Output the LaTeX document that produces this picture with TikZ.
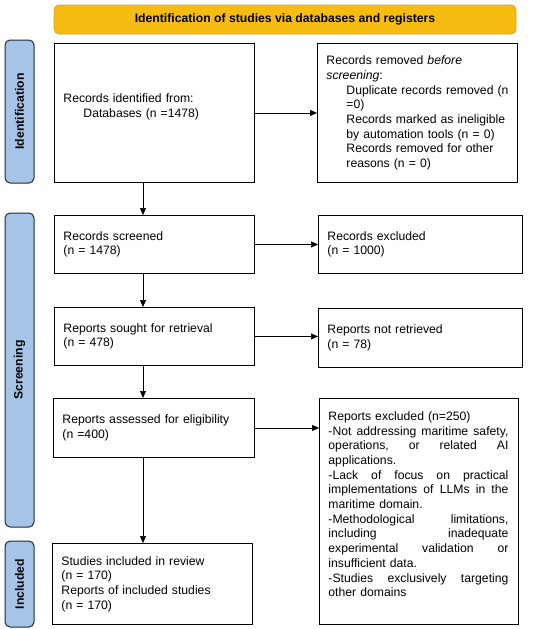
\documentclass[tikz,border=0pt]{standalone}
\usepackage{fontspec}
\setmainfont{Liberation Sans}
\usetikzlibrary{arrows.meta,calc}
\definecolor{hdr}{HTML}{F6BC12}
\definecolor{hdrb}{HTML}{D9A21B}
\definecolor{side}{HTML}{A6C4E8}
\definecolor{sideb}{HTML}{1E2A38}
\newcommand\myfs{\fontsize{12.2}{14.7}\selectfont}
\newcommand\jl[1]{\leavevmode\hbox to 180pt{#1}}
\begin{document}
\begin{tikzpicture}[x=1pt,y=-1pt,
  box/.style={draw=black, line width=0.9pt, rectangle, anchor=north west,
    inner xsep=9pt, inner ysep=0pt, align=left, font=\myfs},
  sidebar/.style={draw=sideb, fill=side, line width=1pt, rounded corners=5pt,
    rotate=90, minimum height=29pt, inner sep=0pt, font=\myfs\bfseries},
  arr/.style={draw=black, line width=0.7pt, -{Triangle[length=7pt,width=6pt]}}]
\useasboundingbox (0,0) rectangle (550,629);
% header
\node[draw=hdrb, fill=hdr, line width=0.8pt, rounded corners=5pt, minimum width=462pt,
  minimum height=29pt, inner sep=0pt, font=\myfs\bfseries] (hdr) at (285,19.5)
  {Identification of studies via databases and registers};
% sidebars
\node[sidebar, minimum width=143pt] (sid) at (19.5,111.5) {Identification};
\node[sidebar, minimum width=314pt] (sscr) at (19.5,370) {Screening};
\node[sidebar, minimum width=86pt] (sinc) at (19.5,584) {Included};
% boxes
\node[box, text width=182pt, minimum height=139pt] (b1) at (54,43)
  {Records identified from:\\\hspace*{20pt}Databases (n =1478)\\\mbox{}};
\node[box, text width=182pt, minimum height=139pt] (b2) at (317,43)
  {Records removed \textit{before}\\\textit{screening}:\\
   \mbox{\hspace*{20pt}Duplicate records removed (n}\\
   \mbox{\hspace*{20pt}=0)}\\
   \mbox{\hspace*{20pt}Records marked as ineligible}\\
   \mbox{\hspace*{20pt}by automation tools (n = 0)}\\
   \mbox{\hspace*{20pt}Records removed for other}\\
   \mbox{\hspace*{20pt}reasons (n = 0)}};
\node[box, text width=182pt, minimum height=58pt] (scr) at (54,215)
  {Records screened\\(n = 1478)};
\node[box, text width=186pt, minimum height=58pt] (exc) at (318,215)
  {Records excluded\\(n = 1000)};
\node[box, text width=182pt, minimum height=58pt] (sou) at (54,307)
  {Reports sought for retrieval\\(n = 478)};
\node[box, text width=186pt, minimum height=59pt] (nr) at (318,308)
  {Reports not retrieved\\(n = 78)};
\node[box, text width=183pt, minimum height=59pt] (ass) at (53,398)
  {Reports assessed for eligibility\\(n =400)};
\node[box, text width=181pt, inner xsep=9pt, minimum height=226pt] (rex) at (319,398)
  {Reports excluded (n=250)\\
   \jl{-Not\hfill addressing\hfill maritime\hfill safety,}\\
   \jl{operations,\hfill or\hfill related\hfill AI}\\
   applications.\\
   \jl{-Lack\hfill of\hfill focus\hfill on\hfill practical}\\
   \jl{implementations\hfill of\hfill LLMs\hfill in\hfill the}\\
   maritime domain.\\
   \jl{-Methodological\hfill limitations,}\\
   \jl{including\hfill inadequate}\\
   \jl{experimental\hfill validation\hfill or}\\
   insufficient data.\\
   \jl{-Studies\hfill exclusively\hfill targeting}\\
   other domains\\\mbox{}};
\node[box, text width=182pt, minimum height=81pt] (inc) at (52,543)
  {Studies included in review\\(n = 170)\\Reports of included studies\\(n = 170)};
% connectors
\coordinate (ax) at (143,0);
\draw[arr] (b1.south -| ax) -- (scr.north -| ax);
\draw[arr] (scr.south -| ax) -- (sou.north -| ax);
\draw[arr] (sou.south -| ax) -- (ass.north -| ax);
\draw[arr] (ass.south -| ax) -- (inc.north -| ax);
\draw[arr] (b1.east) -- (b1.east -| b2.west);
\draw[arr] (scr.east) -- (scr.east -| exc.west);
\draw[arr] (sou.east) -- (sou.east -| nr.west);
\draw[arr] (ass.east) -- (ass.east -| rex.west);
\end{tikzpicture}
\end{document}
